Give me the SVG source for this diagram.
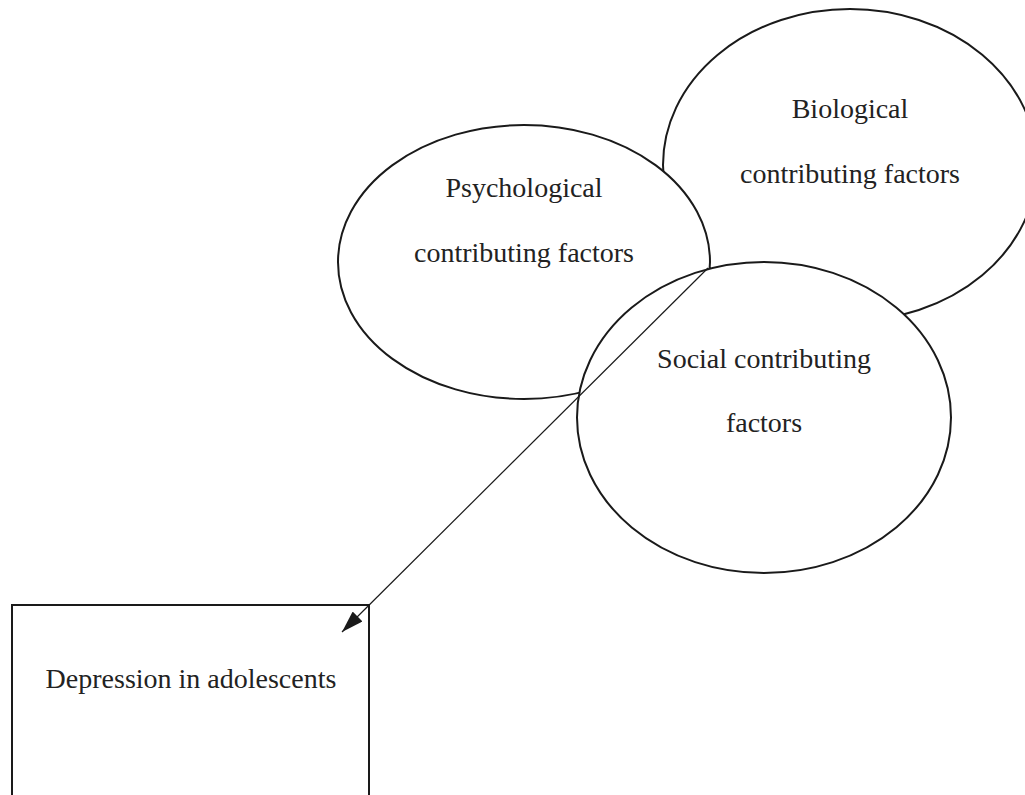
<svg xmlns="http://www.w3.org/2000/svg" width="1025" height="795" viewBox="0 0 1025 795">
<defs>
<style>
.n{fill:#fff;stroke:#1a1a1a;stroke-width:2}
.t{font-family:"Liberation Serif","Times New Roman",serif;font-size:28px;fill:#222;text-anchor:middle}
.c{stroke:#1a1a1a;stroke-width:1.2;fill:none}
</style>
<marker id="ah" markerWidth="22" markerHeight="14" refX="22" refY="7" orient="auto" markerUnits="userSpaceOnUse">
<path d="M0,0 L22,7 L0,14 Z" fill="#1a1a1a"/>
</marker>
</defs>
<rect width="1025" height="795" fill="#fff"/>
<g id="biological">
<ellipse class="n" cx="850" cy="165" rx="187" ry="156"/>
<text class="t" x="850" y="118">Biological</text>
<text class="t" x="850" y="183">contributing factors</text>
</g>
<g id="psychological">
<ellipse class="n" cx="524" cy="262" rx="186" ry="137"/>
<text class="t" x="524" y="197">Psychological</text>
<text class="t" x="524" y="262">contributing factors</text>
</g>
<g id="social">
<ellipse class="n" cx="764" cy="417.5" rx="187" ry="155.5"/>
<text class="t" x="764" y="368">Social contributing</text>
<text class="t" x="764" y="432">factors</text>
</g>
<g id="depression">
<rect class="n" x="12" y="605" width="357" height="210"/>
<text class="t" x="191" y="688">Depression in adolescents</text>
</g>
<g id="connectors">
<line class="c" x1="708" y1="268" x2="342" y2="632" marker-end="url(#ah)"/>
</g>
</svg>
